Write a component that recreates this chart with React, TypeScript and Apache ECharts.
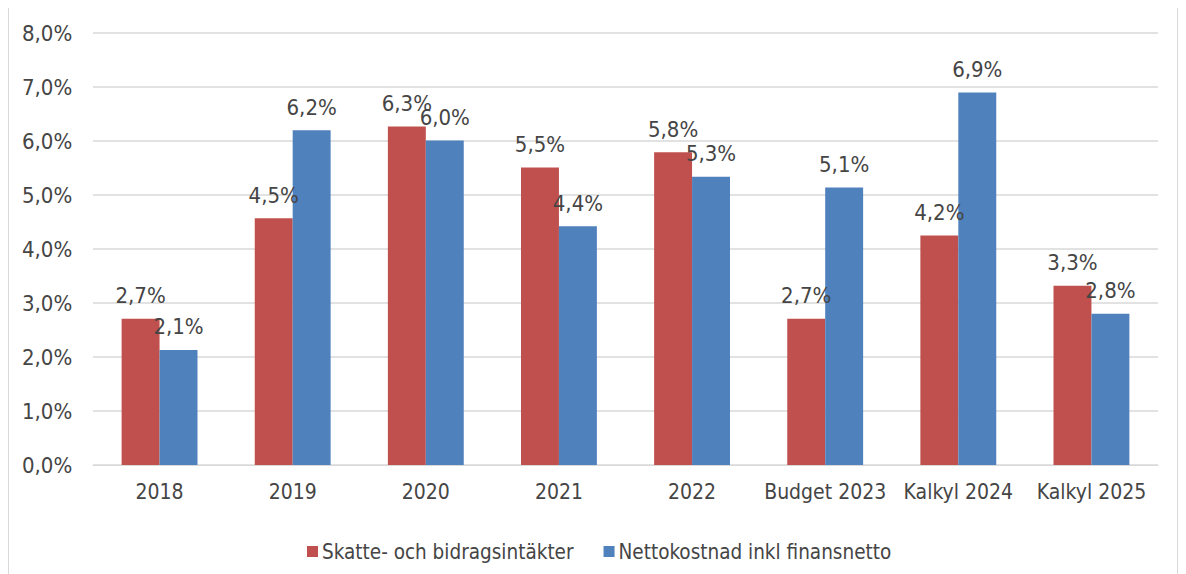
import React, { useEffect, useRef } from "react";
import * as echarts from "echarts";

const categories = ["2018", "2019", "2020", "2021", "2022", "Budget 2023", "Kalkyl 2024", "Kalkyl 2025"];
const skatteValues = [2.71, 4.57, 6.27, 5.51, 5.79, 2.71, 4.25, 3.32];
const skatteLabels = ["2,7%", "4,5%", "6,3%", "5,5%", "5,8%", "2,7%", "4,2%", "3,3%"];
const nettoValues = [2.13, 6.2, 6.01, 4.42, 5.34, 5.14, 6.9, 2.8];
const nettoLabels = ["2,1%", "6,2%", "6,0%", "4,4%", "5,3%", "5,1%", "6,9%", "2,8%"];
const yTicks = { min: 0, max: 8, interval: 1 };

const FONT = "'DejaVu Sans Condensed', 'DejaVu Sans', sans-serif";
const TEXT = "#454545";

export default function App() {
  const ref = useRef<HTMLDivElement>(null);
  useEffect(() => {
    if (!ref.current) return;
    const chart = echarts.init(ref.current, null, { renderer: "svg" });
    chart.setOption({
      animation: false,
      textStyle: { fontFamily: FONT },
      grid: { left: 84, right: 19, top: 25, bottom: 109, containLabel: false },
      legend: {
        bottom: 12,
        left: 298,
        padding: 0,
        itemWidth: 11,
        itemHeight: 11,
        itemGap: 30,
        icon: "rect",
        textStyle: { fontFamily: FONT, fontSize: 20.5, color: TEXT, padding: [0, 0, 0, -1] },
        data: ["Skatte- och bidragsintäkter", "Nettokostnad inkl finansnetto"],
      },
      xAxis: {
        type: "category",
        data: categories,
        axisTick: { show: false },
        axisLine: { lineStyle: { color: "#d9d9d9" } },
        axisLabel: { color: TEXT, fontSize: 21, fontFamily: FONT, margin: 16, interval: 0 },
      },
      yAxis: {
        type: "value",
        min: yTicks.min,
        max: yTicks.max,
        interval: yTicks.interval,
        axisLine: { show: false },
        axisTick: { show: false },
        splitLine: { lineStyle: { color: "#d9d9d9", width: 1.5 } },
        axisLabel: {
          color: TEXT,
          fontSize: 22,
          fontFamily: FONT,
          align: "left",
          margin: 71,
          formatter: (v: number) => v.toFixed(1).replace(".", ",") + "%",
        },
      },
      series: [
        {
          name: "Skatte- och bidragsintäkter",
          type: "bar",
          data: skatteValues,
          barCategoryGap: "43%",
          barGap: "0%",
          itemStyle: { color: "#C0504D" },
          label: {
            show: true,
            position: "top",
            distance: 12,
            color: TEXT,
            fontSize: 22,
            fontFamily: FONT,
            formatter: (p: any) => skatteLabels[p.dataIndex],
          },
        },
        {
          name: "Nettokostnad inkl finansnetto",
          type: "bar",
          data: nettoValues,
          barCategoryGap: "43%",
          barGap: "0%",
          itemStyle: { color: "#4F81BD" },
          label: {
            show: true,
            position: "top",
            distance: 12,
            color: TEXT,
            fontSize: 22,
            fontFamily: FONT,
            formatter: (p: any) => nettoLabels[p.dataIndex],
          },
        },
      ],
    });
    return () => chart.dispose();
  }, []);
  return (
    <div
      ref={ref}
      style={{ width: 1168, height: 566, border: "1px solid #d9d9d9", marginTop: -1 }}
    />
  );
}
